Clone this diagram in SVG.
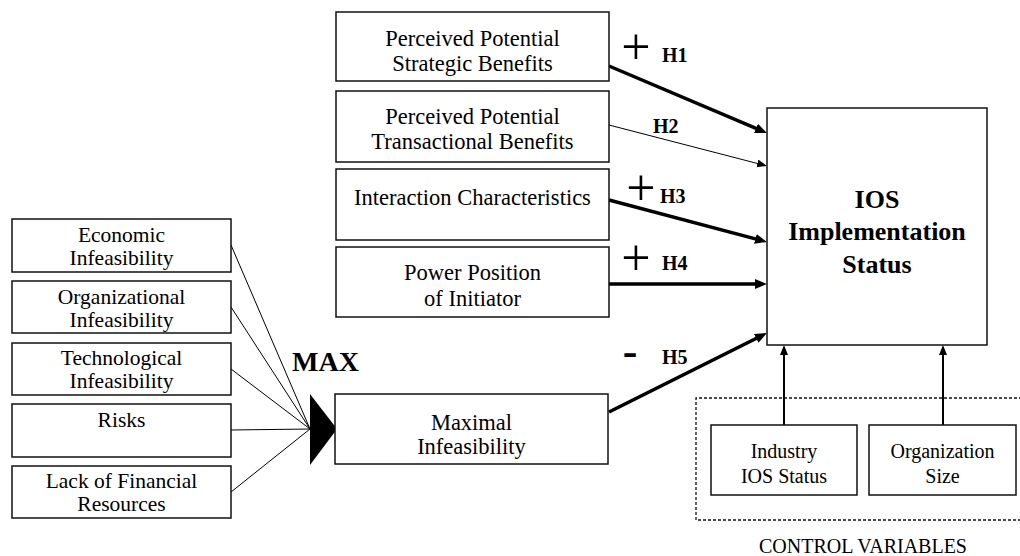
<svg xmlns="http://www.w3.org/2000/svg" width="1020" height="556" viewBox="0 0 1020 556">
<style>
  .box { fill: #fff; stroke: #111; stroke-width: 1.5; }
  .t { font-size: 22.5px; text-anchor: middle; }
  .tl { font-size: 21.5px; text-anchor: middle; }
  .ts { font-size: 20px; text-anchor: middle; }
  .tb { font-weight: bold; }
  .pm { font-size: 52px; text-anchor: middle; }
  .thick { stroke: #000; stroke-width: 3.5; fill: none; marker-end: url(#ah); }
  .thin { stroke: #000; stroke-width: 1; fill: none; marker-end: url(#ahs); }
  .mid { stroke: #000; stroke-width: 2; fill: none; marker-end: url(#ahm); }
  .feed { stroke: #000; stroke-width: 1; fill: none; }
</style>
<defs>
  <marker id="ah" markerUnits="userSpaceOnUse" markerWidth="14" markerHeight="12" refX="2" refY="5" orient="auto">
    <path d="M0,0 L12,5 L0,10 z" fill="#000"/>
  </marker>
  <marker id="ahs" markerUnits="userSpaceOnUse" markerWidth="12" markerHeight="10" refX="1" refY="4" orient="auto">
    <path d="M0,0 L10,4 L0,8 z" fill="#000"/>
  </marker>
  <marker id="ahm" markerUnits="userSpaceOnUse" markerWidth="12" markerHeight="10" refX="1" refY="4" orient="auto">
    <path d="M0,0 L10,4 L0,8 z" fill="#000"/>
  </marker>
</defs>
<rect width="1020" height="556" fill="#fff"/>

<g id="connectors">
  <line class="feed" x1="231" y1="245" x2="310" y2="429"/>
  <line class="feed" x1="231" y1="307" x2="310" y2="429"/>
  <line class="feed" x1="231" y1="369" x2="310" y2="429"/>
  <line class="feed" x1="231" y1="430" x2="310" y2="429"/>
  <line class="feed" x1="231" y1="492" x2="310" y2="429"/>
  <line class="thick" x1="609" y1="66" x2="757.8" y2="129.1"/>
  <line class="thin" x1="609" y1="125" x2="758.3" y2="163.7"/>
  <line class="thick" x1="609" y1="200" x2="757.3" y2="239.4"/>
  <line class="thick" x1="609" y1="284" x2="757" y2="284"/>
  <line class="thick" x1="609" y1="412" x2="758" y2="337.5"/>
  <line class="mid" x1="784" y1="425" x2="784" y2="354"/>
  <line class="mid" x1="943" y1="425" x2="943" y2="354"/>
</g>

<g font-family="'Liberation Serif', 'Times New Roman', Times, serif" fill="#000">
<g id="labels">
  <text class="pm" x="636" y="64">+</text>
  <text class="tb" x="662" y="62" font-size="20">H1</text>
  <text class="tb" x="653" y="133" font-size="20">H2</text>
  <text class="pm" x="641" y="205">+</text>
  <text class="tb" x="660" y="203" font-size="20">H3</text>
  <text class="pm" x="636" y="275">+</text>
  <text class="tb" x="662" y="270" font-size="20">H4</text>
  <text class="tb" x="630" y="366" font-size="44" text-anchor="middle">-</text>
  <text class="tb" x="662" y="364" font-size="20">H5</text>
  <text class="tb" x="292" y="371" font-size="28">MAX</text>
</g>

<g id="max-operator">
  <polygon points="310,394 337,429 310,465" fill="#000"/>
</g>

<g id="n-strategic">
  <rect class="box" x="336" y="12" width="273" height="69"/>
  <text class="t" x="472.5" y="46">Perceived Potential</text>
  <text class="t" x="472.5" y="71">Strategic Benefits</text>
</g>
<g id="n-transactional">
  <rect class="box" x="336" y="91" width="273" height="71"/>
  <text class="t" x="472.5" y="124">Perceived Potential</text>
  <text class="t" x="472.5" y="149">Transactional Benefits</text>
</g>
<g id="n-interaction">
  <rect class="box" x="336" y="169" width="273" height="71"/>
  <text class="t" x="472.5" y="205">Interaction Characteristics</text>
</g>
<g id="n-power">
  <rect class="box" x="336" y="247" width="273" height="70"/>
  <text class="t" x="472.5" y="280">Power Position</text>
  <text class="t" x="472.5" y="306">of Initiator</text>
</g>
<g id="n-maximal">
  <rect class="box" x="335" y="394" width="273" height="70"/>
  <text class="t" x="471.5" y="430">Maximal</text>
  <text class="t" x="471.5" y="454">Infeasibility</text>
</g>

<g id="n-economic">
  <rect class="box" x="12" y="219" width="219" height="53"/>
  <text class="tl" x="121.5" y="242">Economic</text>
  <text class="tl" x="121.5" y="265">Infeasibility</text>
</g>
<g id="n-organizational">
  <rect class="box" x="12" y="281" width="219" height="52"/>
  <text class="tl" x="121.5" y="304">Organizational</text>
  <text class="tl" x="121.5" y="327">Infeasibility</text>
</g>
<g id="n-technological">
  <rect class="box" x="12" y="343" width="219" height="52"/>
  <text class="tl" x="121.5" y="365">Technological</text>
  <text class="tl" x="121.5" y="388">Infeasibility</text>
</g>
<g id="n-risks">
  <rect class="box" x="12" y="404" width="219" height="53"/>
  <text class="tl" x="121.5" y="427">Risks</text>
</g>
<g id="n-financial">
  <rect class="box" x="12" y="466" width="219" height="52"/>
  <text class="tl" x="121.5" y="488">Lack of Financial</text>
  <text class="tl" x="121.5" y="511">Resources</text>
</g>

<g id="n-ios">
  <rect class="box" x="767" y="108" width="220" height="237"/>
  <text class="tb" x="877" y="208" font-size="26" text-anchor="middle">IOS</text>
  <text class="tb" x="877" y="240" font-size="26" text-anchor="middle">Implementation</text>
  <text class="tb" x="877" y="273" font-size="26" text-anchor="middle">Status</text>
</g>

<g id="control-variables">
  <path d="M1022,398 H696 V520 H1022" fill="none" stroke="#111" stroke-width="1.3" stroke-dasharray="3,2"/>
  <text class="ts" x="863" y="553">CONTROL VARIABLES</text>
</g>
<g id="n-industry">
  <rect class="box" x="711" y="425" width="146" height="70"/>
  <text class="ts" x="784" y="458">Industry</text>
  <text class="ts" x="784" y="483">IOS Status</text>
</g>
<g id="n-orgsize">
  <rect class="box" x="869" y="425" width="147" height="70"/>
  <text class="ts" x="942.5" y="458">Organization</text>
  <text class="ts" x="942.5" y="483">Size</text>
</g>
</g>
</svg>
